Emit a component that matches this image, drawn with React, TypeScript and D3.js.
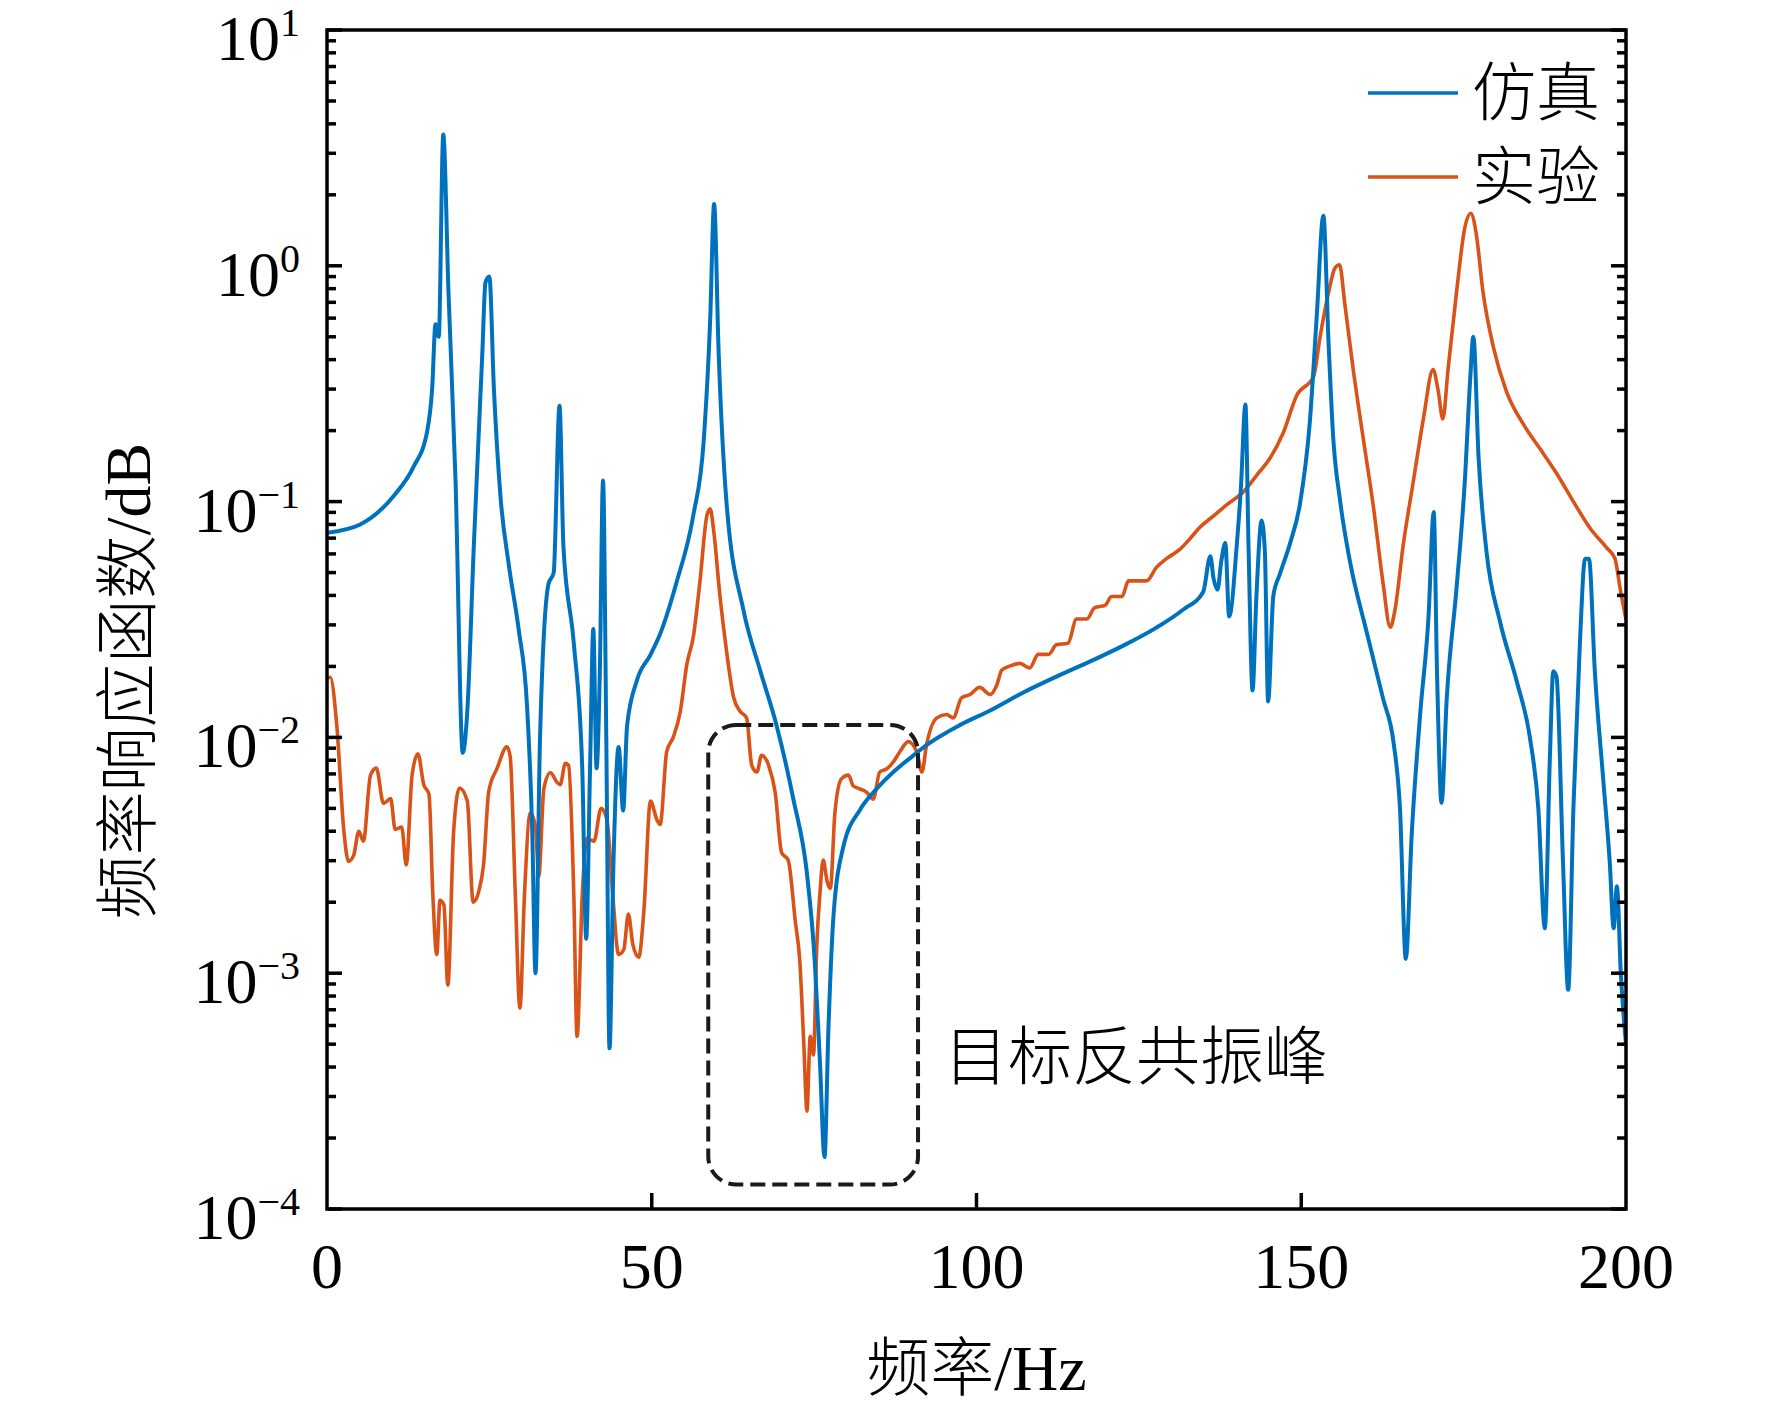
import * as d3 from "d3";

// frequency axis, Hz
const xTicks = [0, 50, 100, 150, 200];
const yExponents = [-4, -3, -2, -1, 0, 1];

const seriesNames = ["仿真", "实验"];
const seriesColors = ["#0072BD", "#D95319"];

// simulation (仿真)
const simFreq = [
  0, 5.1, 10.3, 13.3, 15.4, 16.2, 16.7, 17.2, 17.9, 18.7, 19.8, 20.9, 21.6, 22.6, 23.9, 24.4, 25.0,
  25.7, 26.7, 28.0, 29.5, 30.8, 31.6, 32.1, 32.8, 34.1, 34.9, 35.8, 36.4, 38.0, 39.3, 39.9, 40.5,
  41.0, 41.5, 42.0, 42.5, 43.0, 43.5, 44.1, 44.9, 45.6, 46.2, 47.7, 49.8, 51.3, 53.8, 56.4, 58.0,
  59.0, 59.6, 60.3, 61.5, 64.1, 66.7, 69.2, 71.8, 73.9, 75.1, 75.9, 76.6, 77.2, 78.0, 79.5, 82.1,
  84.6, 87.2, 90.3, 92.3, 97.5, 102.1, 107.2, 112.3, 117.5, 122.6, 127.7, 131.8, 134.9, 136.0,
  136.5, 137.1, 137.7, 138.3, 138.9, 140.1, 140.7, 141.4, 141.9, 142.5, 143.1, 143.9, 144.4, 144.9,
  145.7, 146.7, 148.3, 149.8, 151.3, 152.4, 153.4, 154.2, 154.9, 156.0, 157.5, 160.1, 162.6, 164.2,
  165.2, 166.1, 167.0, 168.3, 169.6, 170.4, 170.9, 171.6, 172.4, 173.9, 175.2, 176.0, 176.5, 177.3,
  178.5, 180.6, 183.2, 185.2, 186.5, 187.5, 188.3, 188.8, 189.3, 190.3, 191.1, 191.9, 192.9, 193.7,
  194.3, 195.2, 196.5, 197.5, 198.1, 198.6, 199.2, 200,
];
const simMag = [
  0.0738, 0.08, 0.106, 0.14, 0.197, 0.304, 0.565, 0.5, 3.6, 0.78, 0.12, 0.0086, 0.0129, 0.0646,
  0.417, 0.85, 0.9, 0.3, 0.106, 0.0537, 0.0288, 0.0136, 0.004, 0.001, 0.01, 0.0447, 0.05, 0.255,
  0.0646, 0.0251, 0.0074, 0.0014, 0.0074, 0.0288, 0.0074, 0.0186, 0.123, 0.01, 0.00048, 0.0029,
  0.0091, 0.0049, 0.0112, 0.0174, 0.0224, 0.0275, 0.0453, 0.0875, 0.181, 0.594, 1.83, 0.428, 0.1,
  0.0348, 0.0192, 0.0113, 0.00547, 0.00264, 0.00112, 0.000417, 0.000166, 0.00058, 0.00178,
  0.00344, 0.00495, 0.00604, 0.00713, 0.00839, 0.00927, 0.0113, 0.013, 0.0155, 0.0181, 0.021,
  0.0245, 0.0292, 0.0348, 0.0414, 0.0586, 0.0472, 0.0423, 0.0561, 0.0668, 0.0326, 0.0668, 0.113,
  0.258, 0.0612, 0.0158, 0.0398, 0.0832, 0.0612, 0.0142, 0.0398, 0.0492, 0.0668, 0.0977, 0.214,
  0.621, 1.63, 0.475, 0.191, 0.1, 0.0558, 0.0278, 0.0146, 0.00955, 0.005, 0.00115, 0.00384,
  0.01245, 0.0327, 0.0904, 0.0191, 0.00528, 0.0146, 0.0427, 0.124, 0.327, 0.5, 0.154, 0.0621,
  0.031, 0.0172, 0.01, 0.005, 0.00155, 0.00857, 0.0191, 0.0181, 0.00295, 0.00085, 0.005, 0.0251,
  0.0573, 0.0573, 0.0191, 0.0066, 0.00295, 0.00155, 0.00234, 0.001, 0.0005,
];

// experiment (实验)
const expFreq = [
  0, 0.5, 1.5, 2.6, 3.3, 4.1, 4.9, 5.6, 6.7, 7.6, 8.7, 9.8, 10.5, 11.5, 12.2, 13.1, 14.0, 14.9,
  15.7, 16.3, 16.9, 17.4, 18.0, 18.6, 19.5, 20.4, 21.6, 22.5, 23.4, 24.1, 24.9, 26.2, 27.7, 28.2,
  29.0, 29.7, 30.4, 31.3, 32.1, 32.6, 33.4, 34.4, 35.4, 35.9, 36.7, 37.2, 38.0, 38.5, 39.3, 40.0,
  41.1, 42.2, 43.1, 44.0, 44.9, 45.7, 46.4, 47.1, 48.0, 48.8, 49.8, 50.8, 51.3, 52.3, 53.3, 54.4,
  55.4, 56.4, 57.4, 58.5, 59.0, 59.5, 60.5, 61.5, 62.6, 63.6, 64.6, 65.4, 66.2, 66.9, 68.0, 69.0,
  70.0, 71.0, 72.1, 72.8, 73.4, 73.9, 74.4, 74.9, 75.4, 75.9, 76.4, 77.0, 77.5, 78.2, 79.2, 80.3,
  81.0, 82.1, 83.1, 84.1, 85.1, 86.2, 87.2, 88.2, 89.5, 90.8, 91.6, 92.3, 93.9, 95.4, 96.4, 97.7,
  99.0, 100.5, 102.1, 103.1, 103.9, 105.2, 106.7, 108.2, 109.5, 111.1, 112.3, 114.1, 115.4, 117.0,
  118.2, 119.8, 120.8, 122.4, 123.4, 126.2, 127.7, 129.3, 131.3, 132.9, 134.4, 136.5, 138.5, 141.1,
  143.1, 145.2, 147.2, 149.3, 151.9, 152.9, 154.2, 155.2, 155.9, 156.7, 158.0, 159.6, 161.1, 162.6,
  163.7, 164.4, 165.7, 167.3, 168.8, 170.3, 171.1, 171.8, 172.6, 173.9, 175.2, 176.1, 176.9, 178.0,
  179.6, 181.6, 184.2, 186.8, 189.3, 191.9, 194.5, 197.0, 198.3, 199.1, 200,
];
const expMag = [
  0.0179, 0.018, 0.0113, 0.004, 0.00298, 0.00316, 0.004, 0.00363, 0.00692, 0.00741, 0.00525,
  0.0055, 0.00407, 0.00417, 0.00288, 0.00692, 0.00851, 0.0063, 0.00575, 0.00214, 0.0012, 0.00204,
  0.00195, 0.00089, 0.004, 0.0061, 0.00537, 0.002, 0.00224, 0.00288, 0.00589, 0.00741, 0.00912,
  0.00832, 0.00214, 0.00071, 0.00214, 0.00479, 0.00417, 0.00257, 0.0061, 0.00708, 0.00646, 0.0063,
  0.00776, 0.00759, 0.00214, 0.00054, 0.00214, 0.00372, 0.00363, 0.005, 0.00447, 0.00214, 0.0012,
  0.00126, 0.00178, 0.00132, 0.00117, 0.00186, 0.00537, 0.00447, 0.00427, 0.0087, 0.01, 0.0129,
  0.0204, 0.0267, 0.0453, 0.0875, 0.0933, 0.0767, 0.0398, 0.0234, 0.0148, 0.0129, 0.0121, 0.0076,
  0.00713, 0.00839, 0.0076, 0.00585, 0.00324, 0.00302, 0.00166, 0.00112, 0.00051, 0.00026, 0.00054,
  0.00045, 0.00129, 0.00219, 0.00302, 0.00245, 0.00229, 0.00479, 0.00667, 0.00692, 0.00624,
  0.00604, 0.00585, 0.00547, 0.00713, 0.00736, 0.00787, 0.00869, 0.0096, 0.00869, 0.00713, 0.00927,
  0.0121, 0.0125, 0.0121, 0.0147, 0.0152, 0.0163, 0.0152, 0.0166, 0.0193, 0.0201, 0.0206, 0.0197,
  0.0225, 0.0225, 0.0247, 0.0251, 0.0318, 0.0318, 0.0355, 0.0363, 0.0396, 0.0396, 0.0461, 0.0461,
  0.0526, 0.0574, 0.0627, 0.0698, 0.0778, 0.0869, 0.0968, 0.11, 0.129, 0.153, 0.195, 0.282, 0.339,
  0.5, 0.769, 0.98, 1.01, 0.692, 0.363, 0.181, 0.0955, 0.045, 0.0293, 0.0344, 0.0655, 0.124, 0.224,
  0.363, 0.293, 0.224, 0.363, 0.769, 1.46, 1.67, 1.39, 0.769, 0.45, 0.293, 0.213, 0.167, 0.132, 0.1,
  0.0769, 0.0638, 0.0573, 0.0427, 0.0316,
];

// dashed box around the target anti-resonance
const boxFreq = [58.7, 91.0];
const boxMag = [0.0113, 0.000127];
const boxLabel = "目标反共振峰";
const boxLabelAt = [95.0, 0.000437];

const W = 1772;
const H = 1418;
const margin = { top: 30, right: 146, bottom: 209, left: 327 };

const serif = "'Liberation Serif', 'Times New Roman', serif";
const cjk = "'Liberation Serif', 'Noto Sans CJK SC', sans-serif";

export default function App() {
  const x = d3.scaleLinear().domain([0, 200]).range([margin.left, W - margin.right]);
  const y = d3.scaleLog().domain([1e-4, 10]).range([H - margin.bottom, margin.top]);

  const line = d3
    .line<[number, number]>()
    .x((d) => x(d[0]))
    .y((d) => y(d[1]))
    .curve(d3.curveMonotoneX);

  const simData = simFreq.map((f, i) => [f, simMag[i]] as [number, number]);
  const expData = expFreq.map((f, i) => [f, expMag[i]] as [number, number]);

  const x0 = x(0);
  const x1 = x(200);
  const yTop = y(10);
  const yBot = y(1e-4);

  const minor: number[] = [];
  for (let e = -4; e < 1; e++) {
    for (let k = 2; k <= 9; k++) minor.push(k * Math.pow(10, e));
  }

  return (
    <svg
      width={W}
      height={H}
      style={{ position: "absolute", left: 0, top: 0, background: "#fff" }}
    >
      <defs>
        <clipPath id="plot">
          <rect x={x0} y={yTop} width={x1 - x0} height={yBot - yTop} />
        </clipPath>
      </defs>

      <g clipPath="url(#plot)" fill="none" strokeLinejoin="round">
        <path d={line(expData) ?? ""} stroke={seriesColors[1]} strokeWidth={3.6} />
        <path d={line(simData) ?? ""} stroke={seriesColors[0]} strokeWidth={4} />
      </g>

      {/* annotation box */}
      <rect
        x={x(boxFreq[0])}
        y={y(boxMag[0])}
        width={x(boxFreq[1]) - x(boxFreq[0])}
        height={y(boxMag[1]) - y(boxMag[0])}
        rx={28}
        fill="none"
        stroke="#1a1a1a"
        strokeWidth={4}
        strokeDasharray="15 7"
      />
      <text
        x={x(boxLabelAt[0])}
        y={y(boxLabelAt[1])}
        dominantBaseline="central"
        fontFamily={cjk}
        fontWeight={300}
        fontSize={64}
      >
        {boxLabel}
      </text>

      {/* frame */}
      <rect
        x={x0}
        y={yTop}
        width={x1 - x0}
        height={yBot - yTop}
        fill="none"
        stroke="#000"
        strokeWidth={3.5}
      />

      {/* y ticks, left and right, inward */}
      <g stroke="#000" strokeWidth={3.5}>
        {yExponents.map((e) => (
          <g key={"M" + e}>
            <line x1={x0} x2={x0 + 15} y1={y(Math.pow(10, e))} y2={y(Math.pow(10, e))} />
            <line x1={x1} x2={x1 - 15} y1={y(Math.pow(10, e))} y2={y(Math.pow(10, e))} />
          </g>
        ))}
        {minor.map((v) => (
          <g key={"m" + v}>
            <line x1={x0} x2={x0 + 9} y1={y(v)} y2={y(v)} />
            <line x1={x1} x2={x1 - 9} y1={y(v)} y2={y(v)} />
          </g>
        ))}
        {xTicks.slice(1, -1).map((t) => (
          <line key={"x" + t} x1={x(t)} x2={x(t)} y1={yBot} y2={yBot - 16} />
        ))}
      </g>

      {/* y tick labels */}
      <g fontFamily={serif} fill="#000">
        {yExponents.map((e) => (
          <text key={"yl" + e} x={x0 - 27} y={y(Math.pow(10, e)) + 30} textAnchor="end" fontSize={64}>
            10
            <tspan dy={-24} fontSize={40}>
              {e < 0 ? "\u2212" + Math.abs(e) : String(e)}
            </tspan>
          </text>
        ))}
        {xTicks.map((t) => (
          <text key={"xl" + t} x={x(t)} y={yBot + 79} textAnchor="middle" fontSize={64}>
            {t}
          </text>
        ))}
      </g>

      {/* axis titles */}
      <text
        x={(x0 + x1) / 2}
        y={1390}
        textAnchor="middle"
        fontFamily={cjk}
        fontWeight={300}
        fontSize={64}
      >
        频率/Hz
      </text>
      <text
        transform={`translate(128,681) rotate(-90)`}
        textAnchor="middle"
        dominantBaseline="central"
        fontFamily={cjk}
        fontWeight={300}
        fontSize={64}
      >
        频率响应函数/dB
      </text>

      {/* legend */}
      {seriesNames.map((name, i) => (
        <g key={name} transform={`translate(1368,${93 + i * 84})`}>
          <line x1={0} x2={90} y1={0} y2={0} stroke={seriesColors[i]} strokeWidth={3.6} />
          <text
            x={104}
            y={0}
            dominantBaseline="central"
            fontFamily={cjk}
            fontWeight={300}
            fontSize={64}
          >
            {name}
          </text>
        </g>
      ))}
    </svg>
  );
}
